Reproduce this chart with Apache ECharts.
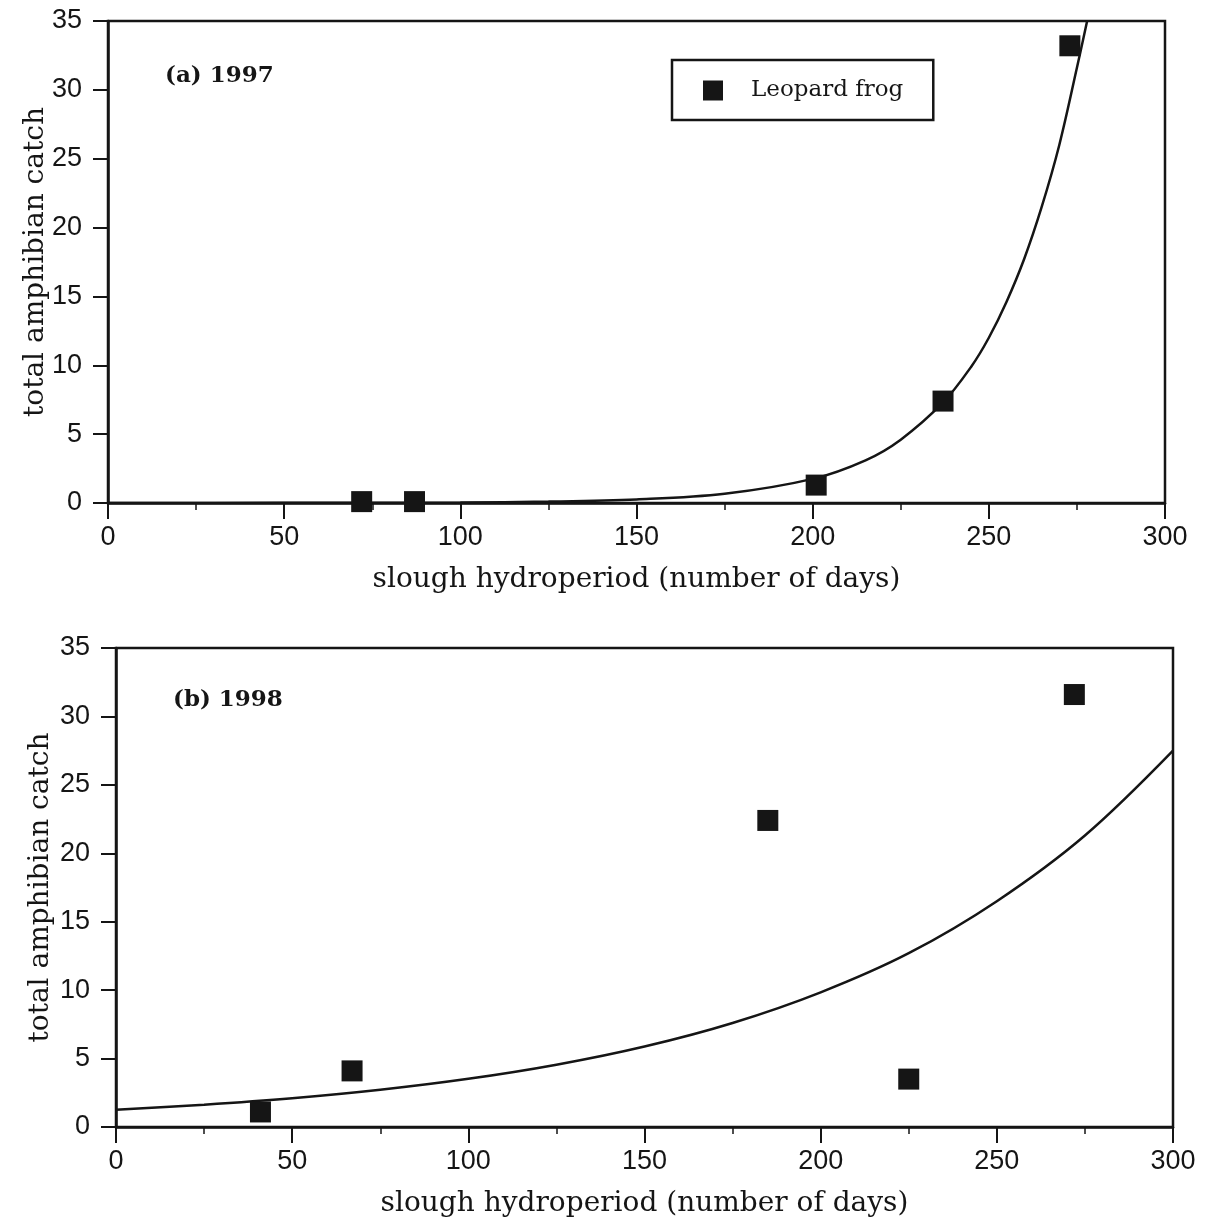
<!DOCTYPE html>
<html>
<head>
<meta charset="utf-8">
<script src="https://cdn.jsdelivr.net/npm/echarts@6/dist/echarts.min.js"></script>
<style>
html,body{margin:0;padding:0;background:#fff;}
#chart{width:1206px;height:1227px;}
</style>
</head>
<body>
<div id="chart"></div>
<script>
// ---- Data ----
const xTicks = [0, 50, 100, 150, 200, 250, 300];
const yTicks = [0, 5, 10, 15, 20, 25, 30, 35];

// (a) 1997 leopard frog observations
const days1997 = [72, 87, 201, 237, 273];
const catch1997 = [0.1, 0.1, 1.3, 7.4, 33.2];
// (a) 1997 fitted curve
const curveX1997 = [0, 50, 100, 125, 150, 175, 200, 215, 225, 237, 245, 250, 255, 260, 265, 270, 275, 277.9];
const curveY1997 = [0, 0.01, 0.04, 0.1, 0.26, 0.67, 1.75, 3.1, 4.6, 7.3, 9.9, 12.0, 14.6, 17.7, 21.5, 26.0, 31.6, 35];

// (b) 1998 observations
const days1998 = [41, 67, 185, 225, 272];
const catch1998 = [1.1, 4.1, 22.4, 3.5, 31.6];
// (b) 1998 fitted curve
const curveX1998 = [0, 25, 50, 75, 100, 125, 150, 175, 200, 225, 250, 275, 300];
const curveY1998 = [1.26, 1.63, 2.1, 2.72, 3.52, 4.55, 5.88, 7.6, 9.84, 12.7, 16.5, 21.3, 27.5];

const legendName = 'Leopard frog';
const xTitle = 'slough hydroperiod (number of days)';
const yTitle = 'total amphibian catch';
const panelA = '(a) 1997';
const panelB = '(b) 1998';

const zip = (a, b) => a.map((v, i) => [v, b[i]]);

const serif = 'DejaVu Serif';
const sans = 'Liberation Sans';
const ink = '#151515';

function xAxisCfg(gridIndex) {
  return {
    gridIndex, type: 'value', min: xTicks[0], max: xTicks[xTicks.length - 1], interval: 50,
    name: xTitle, nameLocation: 'middle', nameGap: 63,
    nameTextStyle: {fontFamily: serif, fontSize: 28, color: ink},
    axisLine: {show: true, onZero: false, lineStyle: {color: ink, width: 2.5}},
    axisTick: {show: true, length: 16, lineStyle: {color: ink, width: 2}},
    minorTick: {show: true, splitNumber: 2, length: 7, lineStyle: {color: ink, width: 1.5}},
    axisLabel: {fontFamily: sans, fontSize: 27, color: ink, margin: 21},
    splitLine: {show: false}
  };
}
function yAxisCfg(gridIndex, gap) {
  return {
    gridIndex, type: 'value', min: yTicks[0], max: yTicks[yTicks.length - 1], interval: 5,
    name: yTitle, nameLocation: 'middle', nameGap: gap, nameRotate: 90, nameMoveOverlap: false,
    nameTextStyle: {fontFamily: serif, fontSize: 28, color: ink},
    axisLine: {show: true, onZero: false, lineStyle: {color: ink, width: 2.5}},
    axisTick: {show: true, length: 15, lineStyle: {color: ink, width: 2}},
    axisLabel: {fontFamily: sans, fontSize: 27, color: ink, margin: 26},
    splitLine: {show: false}
  };
}

const chart = echarts.init(document.getElementById('chart'), null, {renderer: 'canvas'});
chart.setOption({
  backgroundColor: '#fff',
  animation: false,
  title: [
    {text: panelA, left: 160, top: 60, textStyle: {fontFamily: serif, fontWeight: 'bold', fontSize: 23, color: ink}},
    {text: panelB, left: 168, top: 684, textStyle: {fontFamily: serif, fontWeight: 'bold', fontSize: 23, color: ink}}
  ],
  legend: {
    data: [legendName], left: 672, top: 60, orient: 'horizontal',
    padding: [19, 30, 18, 31], borderColor: ink, borderWidth: 2.5,
    itemWidth: 20, itemHeight: 20, icon: 'rect',
    textStyle: {fontFamily: serif, fontSize: 23, color: ink, padding: [0, 0, 0, 23]}
  },
  grid: [
    {left: 108, right: 41, top: 21, height: 482, show: true, borderColor: ink, borderWidth: 2.5, backgroundColor: 'transparent'},
    {left: 116, right: 33, top: 648, height: 479, show: true, borderColor: ink, borderWidth: 2.5, backgroundColor: 'transparent'}
  ],
  xAxis: [xAxisCfg(0), xAxisCfg(1)],
  yAxis: [yAxisCfg(0, 58), yAxisCfg(1, 61)],
  series: [
    {
      type: 'line', xAxisIndex: 0, yAxisIndex: 0, data: zip(curveX1997, curveY1997),
      smooth: 0.35, showSymbol: false, symbol: 'none',
      lineStyle: {color: ink, width: 2.5}, z: 3, silent: true
    },
    {
      name: legendName, type: 'scatter', xAxisIndex: 0, yAxisIndex: 0, data: zip(days1997, catch1997),
      symbol: 'rect', symbolSize: 21, itemStyle: {color: ink, opacity: 1}, z: 4
    },
    {
      type: 'line', xAxisIndex: 1, yAxisIndex: 1, data: zip(curveX1998, curveY1998),
      smooth: 0.35, showSymbol: false, symbol: 'none',
      lineStyle: {color: ink, width: 2.5}, z: 3, silent: true
    },
    {
      name: 'Leopard frog 1998', type: 'scatter', xAxisIndex: 1, yAxisIndex: 1, data: zip(days1998, catch1998),
      symbol: 'rect', symbolSize: 21, itemStyle: {color: ink, opacity: 1}, z: 4
    }
  ]
});
</script>
</body>
</html>
